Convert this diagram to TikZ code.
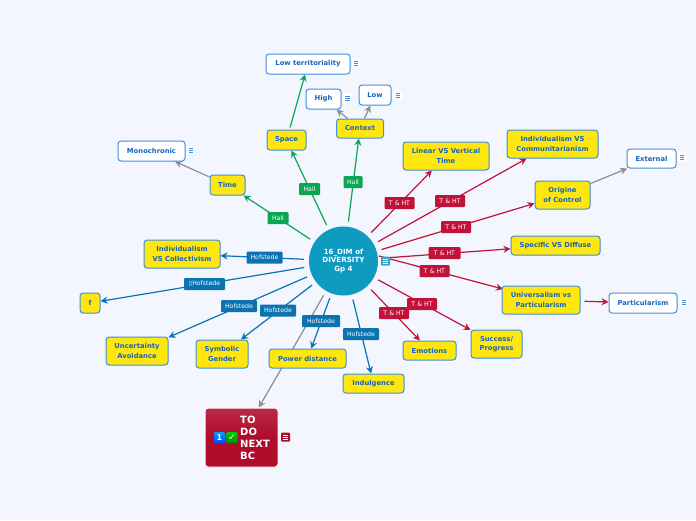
\documentclass[tikz,border=0pt]{standalone}
\usepackage{fontspec}
\setmainfont{DejaVu Sans}
\usetikzlibrary{arrows.meta,shadows,backgrounds}
\definecolor{bgc}{HTML}{F3F6FF}
\definecolor{txtb}{HTML}{1565C0}
\definecolor{brd}{HTML}{3B8FE3}
\definecolor{yel}{HTML}{FFE60F}
\definecolor{hubc}{HTML}{0F9ABF}
\definecolor{grn}{HTML}{0AA653}
\definecolor{blu}{HTML}{0A73B0}
\definecolor{rd}{HTML}{C2123A}
\definecolor{todoc}{HTML}{B00C2C}
\definecolor{gry}{HTML}{8C8E96}
\tikzset{
 x=1pt,y=-1pt,
 topic/.style={draw=brd,line width=1pt,rounded corners=3pt,inner sep=0pt,align=center,text=txtb,
   font=\fontsize{6.8}{9.4}\selectfont\bfseries},
 yb/.style={topic,fill=yel},
 wb/.style={topic,fill=white},
 sz/.style 2 args={minimum width=#1pt,minimum height=#2pt},
 hall/.style={fill=grn,text=white,rounded corners=1pt,inner sep=0pt,minimum width=21pt,minimum height=12pt,font=\fontsize{6.2}{7}\selectfont},
 hof/.style={fill=blu,text=white,rounded corners=1pt,inner sep=0pt,minimum width=36pt,minimum height=12pt,font=\fontsize{6.2}{7}\selectfont},
 tht/.style={fill=rd,text=white,rounded corners=1pt,inner sep=0pt,minimum width=30pt,minimum height=12pt,font=\fontsize{6.2}{7}\selectfont},
 con/.style={line width=1.2pt,-{Stealth[length=7pt,width=7pt]}},
 fromhub/.style={con,shorten <=5pt},
 cg/.style={con,draw=grn},
 cb/.style={con,draw=blu},
 cr/.style={con,draw=rd},
 cy/.style={con,draw=gry},
 note/.style={fill=white,minimum size=8pt,inner sep=0pt,
   path picture={\foreach \d in {-2,0,2}{\draw[brd,line width=.7pt] ([xshift=-2.2pt,yshift=\d pt]path picture bounding box.center) -- ([xshift=2.2pt,yshift=\d pt]path picture bounding box.center);}}},
 notew/.style={fill=#1,rounded corners=1pt,minimum size=9pt,inner sep=0pt,
   path picture={\foreach \d in {-2,0,2}{\draw[white,line width=.7pt] ([xshift=-2.4pt,yshift=\d pt]path picture bounding box.center) -- ([xshift=2.4pt,yshift=\d pt]path picture bounding box.center);}}},
}
\begin{document}
\begin{tikzpicture}
\begin{scope}[on background layer]
\path[use as bounding box,fill=bgc] (0,0) rectangle (696,520);
\end{scope}
% nodes
\node[circle,fill=hubc,minimum size=69pt,inner sep=0pt,align=center,text=white,font=\fontsize{7.1}{8.8}\selectfont\bfseries] (hub) at (343.5,261) {16\_DIM of\\DIVERSITY\\Gp 4};
\node[notew=hubc!85!white] (hubnote) at (385.5,261) {};
\node[wb,sz={84}{20}] (lowterr) at (308,64) {Low territoriality};
\node[note] (n1) at (356,63) {};
\node[wb,sz={35}{20}] (high) at (323.5,99) {High};
\node[note] (n2) at (347.5,98) {};
\node[wb,sz={32}{20}] (low) at (375,95) {Low};
\node[note] (n3) at (398,95) {};
\node[yb,sz={47}{19}] (context) at (360,128.5) {Context};
\node[yb,sz={39}{20}] (space) at (286.5,140) {Space};
\node[yb,sz={35}{20}] (time) at (227.5,185) {Time};
\node[wb,sz={67}{20}] (mono) at (151.5,151) {Monochronic};
\node[note] (n4) at (191,150) {};
\node[yb,sz={86}{28}] (linear) at (446,156) {Linear VS Vertical\\Time};
\node[yb,sz={91}{28}] (indcom) at (552.5,144) {Individualism VS\\Communitarianism};
\node[yb,sz={55}{28}] (orig) at (562.5,195) {Origine\\of Control};
\node[wb,sz={49}{19}] (ext) at (651.5,158.5) {External};
\node[note] (n5) at (682,157) {};
\node[yb,sz={89}{19}] (spec) at (555.5,245.5) {Specific VS Diffuse};
\node[yb,sz={78}{28}] (univ) at (541,300) {Universalism vs\\Particularism};
\node[wb,sz={68}{20}] (part) at (643,303) {Particularism};
\node[note] (n6) at (684,302) {};
\node[yb,sz={51}{28}] (succ) at (496.5,344) {Success/\\Progress};
\node[yb,sz={53}{19}] (emo) at (429.5,350.5) {Emotions};
\node[yb,sz={61}{19}] (indul) at (373.5,383.5) {Indulgence};
\node[yb,sz={77}{19}] (power) at (307.5,358.5) {Power distance};
\node[yb,sz={52}{28}] (symb) at (222,354) {Symbolic\\Gender};
\node[yb,sz={62}{28}] (unc) at (137,351) {Uncertainty\\Avoidance};
\node[yb,sz={20}{20}] (f) at (90,303) {f};
\node[yb,sz={76}{28}] (indcol) at (182,254) {Individualism\\VS Collectivism};
\node[draw=white,line width=1pt,rounded corners=3pt,top color=todoc!88!white,bottom color=todoc,middle color=todoc,minimum width=73pt,minimum height=59pt,drop shadow={shadow xshift=0pt,shadow yshift=-1pt,opacity=.25}] (todo) at (241.5,437.5) {};
\node[anchor=west,align=left,text=white,inner sep=0pt,font=\fontsize{10}{12}\selectfont\bfseries] (todot) at (240,437.5) {TO\\DO\\NEXT\\BC};
\node[top color=cyan!60!blue,bottom color=blue!70!cyan,text=white,rounded corners=1pt,minimum size=11pt,inner sep=0pt,font=\fontsize{8}{8}\selectfont\bfseries] (ic1) at (219.5,437.5) {1};
\node[top color=green!80!black,bottom color=green!55!black,text=white,rounded corners=1pt,minimum size=11pt,inner sep=0pt,font=\fontsize{9}{9}\selectfont\bfseries] (ic2) at (232,437.5) {✓};
\node[notew=todoc] (n7) at (285.5,437) {};
\coordinate (ustart) at (379,256);
\coordinate (uend) at (503,289);
% connectors
\begin{scope}[on background layer]
\draw[cg,fromhub] (hub) -- (time);
\draw[cg,fromhub] (hub) -- (space);
\draw[cg,fromhub] (hub) -- (context);
\draw[cg,shorten <=2pt] (space) -- (lowterr);
\draw[cy] (context) -- (high);
\draw[cy] (context) -- (low);
\draw[cy] (time) -- (mono);
\draw[cy] (orig) -- (ext);
\draw[cr,fromhub] (hub) -- (linear);
\draw[cr,fromhub] (hub) -- (indcom);
\draw[cr,fromhub] (hub) -- (orig);
\draw[cr,fromhub] (hub) -- (spec);
\draw[cr,con] (ustart) -- (uend);
\draw[cr,fromhub] (hub) -- (emo);
\draw[cr,fromhub] (hub) -- (succ);
\draw[cr,shorten <=4pt] (univ) -- (part);
\draw[cb,fromhub] (hub) -- (indcol);
\draw[cb,fromhub] (hub) -- (f);
\draw[cb,fromhub] (hub) -- (unc);
\draw[cb,fromhub] (hub) -- (symb);
\draw[cb,fromhub] (hub) -- (power);
\draw[cb,fromhub] (hub) -- (indul);
\draw[cy,fromhub] (hub) -- (todo);
\end{scope}
% labels
\node[hall] (l1) at (278,218) {Hall};
\node[hall] (l2) at (309.5,189) {Hall};
\node[hall,minimum width=19pt] (l3) at (353,182) {Hall};
\node[tht] (r1) at (399.5,203) {T \& HT};
\node[tht] (r2) at (450,201) {T \& HT};
\node[tht] (r3) at (456,227) {T \& HT};
\node[tht,minimum width=32pt] (r4) at (444.5,253) {T \& HT};
\node[tht] (r5) at (434.5,271) {T \& HT};
\node[tht] (r6) at (422,304) {T \& HT};
\node[tht] (r7) at (394,313) {T \& HT};
\node[hof] (b1) at (264.5,257.5) {Hofstede};
\node[hof,minimum width=41pt] (b2) at (204.5,284) {▯Hofstede};
\node[hof] (b3) at (239,306) {Hofstede};
\node[hof] (b4) at (278,310.5) {Hofstede};
\node[hof,minimum width=38pt] (b5) at (321,321) {Hofstede};
\node[hof] (b6) at (361,334) {Hofstede};
\end{tikzpicture}
\end{document}
